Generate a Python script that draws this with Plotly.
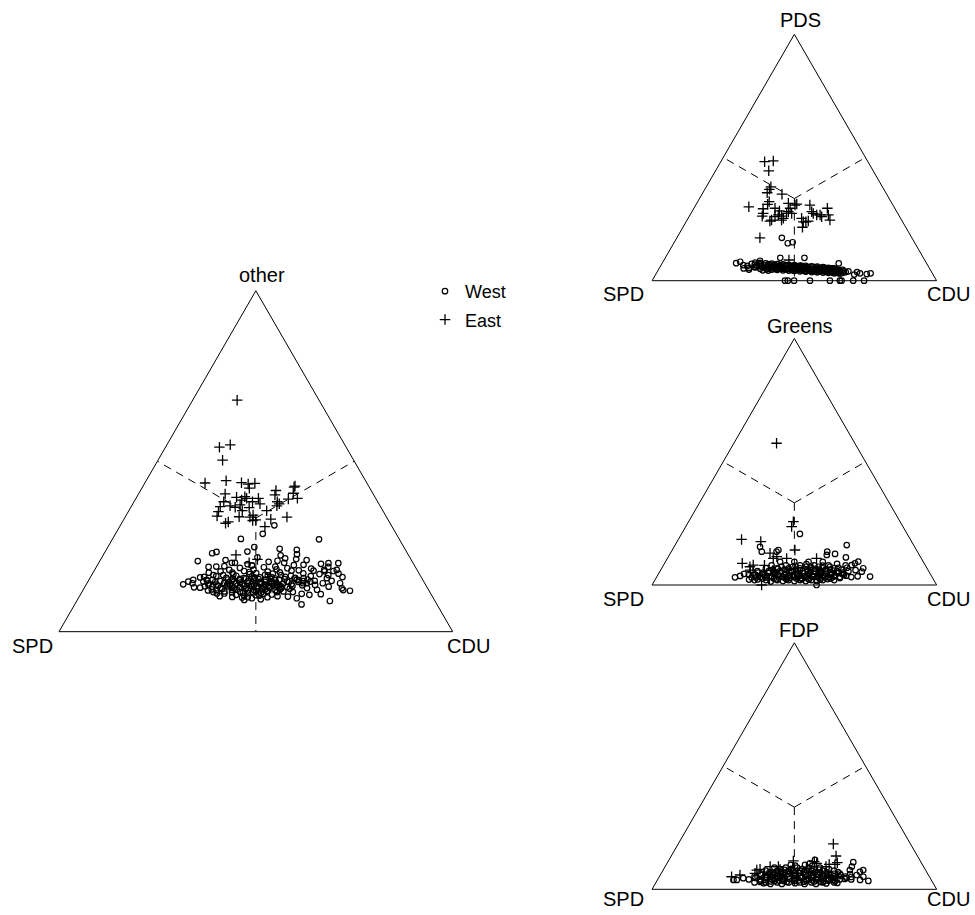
import plotly.graph_objects as go

# ---------------- data: (top-party share %, CDU share %) per constituency; SPD = remainder
# Plot 1: "other" vs SPD vs CDU
other_west = [
    (31.2, 39.1), (28.7, 37.4), (27.2, 32.6), (27.1, 52.5), (24.8, 37.2), (23.5, 36.1), (24.3, 43.9),
    (24.0, 48.4), (22.7, 49.1), (21.3, 49.6), (23.0, 27.4), (23.4, 28.3), (20.7, 24.9), (19.1, 30.4),
    (20.2, 34.6), (20.2, 33.8), (21.0, 52.4), (21.5, 46.7), (20.2, 47.1), (20.1, 60.9), (20.1, 58.4),
    (19.9, 56.6), (17.9, 55.7), (18.1, 58.3), (17.8, 60.8), (18.1, 61.5), (13.9, 24.6), (14.7, 25.5),
    (15.2, 26.5), (14.2, 26.8), (12.9, 29.4), (14.7, 29.3), (13.7, 31.1), (12.4, 32.6), (15.2, 29.9),
    (16.6, 30.9), (9.3, 42.4), (10.1, 42.9), (9.8, 55.5), (8.0, 57.6), (11.1, 56.1), (9.0, 64.3),
    (12.0, 67.9), (12.2, 66.1), (14.2, 64.3), (12.7, 65.5), (13.7, 58.2), (14.7, 56.5), (14.2, 59.9),
    (15.7, 60.2), (16.6, 60.1), (15.7, 54.3), (14.2, 55.8), (15.2, 52.8),
    (19.2, 32.4), (18.7, 36.6), (19.4, 39.3), (18.9, 42.6), (19.1, 45.4), (18.6, 48.7),
    (17.7, 32.2), (17.3, 35.4), (17.8, 38.1), (17.2, 41.5), (17.6, 44.2), (17.4, 47.4), (17.9, 50.1),
    (17.1, 53.5), (16.3, 31.8), (15.8, 34.6), (16.4, 36.8), (15.7, 39.1), (16.2, 40.9), (15.9, 43.1),
    (16.5, 44.8), (15.6, 47.1), (16.1, 49.4), (15.8, 52.1), (16.3, 55.8), (15.2, 31.4), (14.8, 33.6),
    (15.3, 35.3), (14.7, 37.1), (15.1, 38.4), (14.9, 40.6), (15.4, 41.8), (14.6, 43.7), (15.2, 44.9),
    (14.8, 46.6), (15.3, 48.3), (14.7, 50.6), (15.1, 53.4), (14.9, 57.5), (14.2, 30.9), (13.8, 33.1),
    (14.3, 34.8), (13.7, 36.6), (14.1, 37.9), (13.9, 39.6), (14.4, 40.8), (13.6, 42.7), (14.2, 43.9),
    (13.8, 45.6), (14.3, 46.8), (13.7, 48.6), (14.1, 49.9), (13.9, 52.1), (14.2, 54.9), (13.2, 32.4),
    (12.8, 34.6), (13.3, 36.3), (12.7, 38.1), (13.1, 39.4), (12.9, 41.1), (13.4, 42.3), (12.6, 44.2),
    (13.2, 45.4), (12.8, 47.1), (13.3, 48.3), (12.7, 50.1), (13.1, 51.4), (12.2, 33.9), (11.8, 36.1),
    (12.3, 37.8), (11.7, 40.1), (12.1, 41.9), (11.9, 44.1), (12.4, 45.3), (11.6, 47.1), (12.2, 48.9),
    (11.8, 51.1), (11.2, 36.4), (10.8, 39.6), (11.3, 42.3), (10.7, 44.6), (11.1, 46.4), (10.9, 48.6),
    (10.2, 38.9), (9.8, 44.1), (10.1, 47.9),
    (16.8, 35.9), (16.9, 39.9), (16.7, 44.0), (16.6, 48.1), (15.5, 36.4), (15.6, 39.7), (15.4, 43.0),
    (15.5, 46.0), (15.4, 49.6), (15.6, 52.0), (14.5, 32.4), (14.5, 35.7), (14.4, 38.8), (14.5, 42.0),
    (14.6, 45.0), (14.4, 48.0), (14.5, 51.1), (14.6, 53.5), (13.5, 33.6), (13.4, 37.2), (13.5, 40.3),
    (13.4, 43.6), (13.5, 46.3), (13.6, 49.2), (13.4, 52.6), (12.5, 35.2), (12.4, 39.0), (12.5, 41.2),
    (12.3, 43.3), (12.5, 46.2), (12.4, 49.9), (11.5, 38.2), (11.4, 41.0), (11.5, 43.6), (11.4, 45.6),
    (11.6, 49.6), (10.5, 41.8), (10.6, 45.6), (18.2, 40.3), (18.3, 46.1), (18.0, 51.9), (19.8, 38.0),
    (20.5, 43.0), (21.8, 39.5), (22.4, 45.1), (19.6, 52.3), (16.9, 57.7), (17.0, 62.5), (13.2, 61.9),
    (11.0, 61.0), (10.3, 53.0), (12.8, 56.6), (15.9, 27.9), (13.0, 27.8), (17.3, 29.4), (11.6, 33.4),
    (10.4, 35.6), (19.0, 28.5), (21.0, 31.8), (16.0, 64.0),
    (15.0, 36.4), (14.0, 41.9), (13.0, 43.8), (12.0, 46.9), (15.8, 41.8), (16.0, 45.9), (15.1, 47.3),
    (14.1, 47.5), (13.2, 49.9), (12.6, 52.3), (14.8, 54.6), (16.4, 50.7), (17.0, 45.8), (17.5, 39.6),
    (16.6, 33.4), (14.9, 30.2), (13.3, 30.4), (12.1, 31.8), (11.2, 34.5), (10.0, 41.5), (9.5, 46.5),
    (10.4, 50.3), (11.6, 53.6), (13.6, 55.0), (15.3, 55.5), (18.5, 54.8), (19.5, 49.9), (20.8, 45.1),
    (18.1, 34.2), (16.1, 28.8), (12.3, 59.4), (14.9, 61.8), (17.7, 58.6), (19.0, 58.9), (10.8, 58.2),
    (13.9, 35.8), (12.9, 37.6), (15.5, 38.2), (14.3, 44.3), (13.1, 46.8),
]
other_east = [
    (67.9, 11.3), (54.1, 13.7), (54.8, 16.1), (50.3, 16.4), (43.6, 15.3), (44.3, 20.3), (43.7, 24.5),
    (43.3, 26.4), (43.5, 28.0), (42.1, 27.3), (40.4, 22.0), (39.4, 25.4), (39.1, 28.1), (39.1, 31.1),
    (38.1, 30.1), (38.6, 27.1), (38.1, 22.8), (36.7, 22.6), (36.9, 25.0), (35.2, 22.9), (33.9, 23.2),
    (36.5, 26.5), (35.5, 28.8), (33.7, 28.9), (36.4, 30.1), (33.6, 31.7), (34.2, 32.2), (31.8, 26.4),
    (32.2, 26.9), (32.6, 32.9), (35.5, 35.0), (33.0, 37.3), (30.8, 36.9), (41.4, 34.4), (40.1, 34.8),
    (38.1, 36.4), (37.5, 37.2), (36.9, 36.9), (42.7, 38.6), (42.4, 38.5), (40.6, 39.2), (39.1, 41.0),
    (38.9, 38.8), (33.6, 41.1), (37.2, 27.4), (39.6, 27.4), (32.8, 33.6), (37.5, 32.3), (22.5, 33.7),
    (20.2, 38.2), (21.2, 39.8),
]

# Plot 2: PDS vs SPD vs CDU
pds_west = [
    (0.0, 46.7), (0.0, 47.7), (0.0, 49.9), (0.0, 55.5), (0.0, 62.5), (0.0, 66.0), (0.0, 66.6),
    (0.0, 70.7), (0.0, 74.5), (17.4, 36.9), (15.2, 40.1), (15.6, 41.6),
    (7.1, 26.0), (7.7, 27.1), (6.3, 28.9), (5.0, 29.7), (6.0, 30.5), (4.5, 31.8), (6.8, 31.6),
    (5.5, 33.8), (7.0, 34.0), (9.3, 40.4), (9.3, 48.9), (8.1, 33.9), (7.0, 62.1),
    (3.0, 71.6), (2.7, 74.1), (3.0, 75.3), (3.5, 70.3), (2.5, 69.8), (3.8, 67.1), (3.2, 65.4),
    (4.8, 35.6), (6.0, 35.0), (7.2, 34.4), (5.0, 37.5), (6.2, 36.9), (7.0, 36.5), (4.5, 39.8),
    (5.7, 39.2), (6.9, 38.6), (4.4, 41.8), (5.6, 41.2), (6.7, 40.7), (5.0, 41.5), (4.2, 43.9),
    (5.4, 43.3), (6.6, 42.7), (6.0, 43.0), (4.1, 46.0), (5.3, 45.4), (6.4, 44.8), (4.7, 45.7),
    (4.0, 48.0), (5.1, 47.5), (6.3, 46.9), (5.7, 47.2), (3.8, 50.1), (5.0, 49.5), (6.1, 49.0),
    (4.4, 49.8), (3.7, 52.2), (4.8, 51.6), (6.0, 51.0), (3.5, 54.3), (4.7, 53.7), (5.8, 53.1),
    (3.4, 56.3), (4.6, 55.7), (5.7, 55.2), (3.3, 58.4), (4.4, 57.8), (5.5, 57.3), (3.2, 60.4),
    (4.3, 59.9), (5.2, 59.4), (3.0, 62.5), (4.1, 62.0), (5.0, 61.5), (2.9, 64.6), (4.0, 64.0),
    (5.2, 31.4), (6.5, 32.8), (5.5, 33.3), (5.3, 38.4), (6.1, 40.0), (4.9, 42.6), (5.9, 44.1),
    (4.6, 47.0), (5.5, 48.3), (4.3, 51.0), (5.3, 50.6), (4.1, 53.0), (5.2, 52.4), (4.0, 55.0),
    (5.0, 54.5), (3.8, 57.0), (4.9, 56.6), (3.6, 59.2), (4.8, 58.7), (3.6, 61.2), (4.6, 60.8),
    (3.4, 63.3), (4.5, 62.8),
    (5.8, 37.8), (6.5, 39.7), (5.2, 40.6), (6.3, 41.9), (4.8, 43.6), (5.8, 45.6), (4.4, 46.8),
    (5.9, 46.4), (4.9, 48.7), (5.6, 49.9), (4.2, 50.6), (5.5, 52.2), (4.4, 52.9), (5.4, 54.9),
    (4.1, 55.9), (5.2, 56.4), (3.9, 58.8), (5.0, 58.3), (3.8, 60.7), (4.9, 60.2), (3.6, 62.3),
    (4.7, 61.8), (3.7, 64.0), (4.4, 64.8), (3.5, 66.3), (6.7, 34.9), (6.1, 33.9), (7.3, 32.6),
    (4.2, 36.8), (4.1, 38.8),
    (5.5, 36.2), (4.6, 38.0), (6.6, 37.6), (5.1, 39.5), (6.0, 41.4), (4.7, 40.9), (5.5, 42.5),
    (6.3, 43.8), (4.5, 44.8), (5.2, 46.4), (6.0, 45.8), (4.3, 48.9), (5.0, 48.1), (5.9, 48.0),
    (4.6, 50.5), (5.4, 51.3), (3.9, 51.7), (4.6, 52.8), (5.6, 53.8), (4.0, 54.2), (4.9, 55.3),
    (3.7, 55.6), (4.4, 56.6), (5.3, 57.9), (3.9, 57.7), (4.6, 58.9), (3.5, 60.0), (4.2, 61.1),
    (5.0, 60.8), (3.9, 62.9), (3.3, 61.8), (4.3, 63.6), (3.1, 63.9), (3.8, 65.5), (5.8, 42.6),
    (6.4, 38.2), (4.9, 44.6), (5.6, 46.9), (4.2, 47.4), (6.0, 49.6),
]
pds_east = [
    (48.3, 15.4), (48.6, 18.3), (44.6, 18.7), (37.1, 22.7), (38.1, 22.7), (35.7, 22.6), (35.1, 28.1),
    (30.0, 19.0), (29.2, 24.4), (31.0, 25.1), (32.1, 25.1), (27.3, 25.4), (26.2, 25.6), (24.2, 29.3),
    (24.6, 29.7), (26.0, 30.2), (28.3, 30.6), (26.7, 31.0), (26.2, 32.4), (25.3, 33.5), (24.6, 33.2),
    (31.4, 32.2), (29.4, 33.8), (28.0, 33.9), (27.3, 33.6), (30.7, 34.9), (31.1, 35.3), (30.7, 40.1),
    (28.0, 42.1), (27.3, 43.0), (26.7, 44.5), (26.7, 45.7), (26.0, 46.6), (29.4, 46.9), (24.6, 50.2),
    (26.7, 48.6), (25.3, 39.9), (23.9, 41.2), (23.9, 42.1), (24.2, 42.8), (21.7, 42.0), (17.4, 29.2),
    (29.4, 28.5), (27.3, 35.4), (8.4, 43.9),
]

# Plot 3: Greens vs SPD vs CDU
greens_west = [
    (20.7, 41.6), (16.2, 60.3), (11.2, 62.5), (12.6, 58.0), (12.2, 55.3), (13.5, 54.8), (13.5, 31.8),
    (15.5, 30.2), (13.5, 37.0), (14.2, 37.3), (3.4, 74.9), (6.8, 70.8), (5.4, 71.0), (9.5, 67.7),
    (8.8, 66.9), (8.1, 66.1), (0.0, 57.8), (3.1, 27.6), (3.7, 29.1), (4.5, 30.1),
    (2.0, 35.0), (2.0, 39.0), (2.0, 43.0), (2.0, 47.0), (2.0, 51.0), (2.0, 55.0), (2.0, 59.0),
    (2.0, 63.0), (3.2, 36.4), (3.2, 40.4), (3.2, 44.4), (3.2, 48.4), (3.2, 52.4), (3.2, 56.4),
    (3.2, 60.4), (3.2, 64.4), (3.2, 68.4), (4.4, 31.8), (4.4, 36.8), (4.4, 40.8), (4.4, 44.8),
    (4.4, 48.8), (4.4, 52.8), (4.4, 56.8), (4.4, 60.8), (4.4, 64.8), (5.6, 34.2), (5.6, 38.2),
    (5.6, 42.2), (5.6, 46.2), (5.6, 50.2), (5.6, 54.2), (5.6, 58.2), (5.6, 62.2), (5.6, 66.2),
    (6.8, 36.6), (6.8, 40.6), (6.8, 44.6), (6.8, 48.6), (6.8, 52.6), (6.8, 56.6), (6.8, 60.6),
    (8.0, 38.0), (8.0, 43.0), (8.0, 48.0), (8.0, 53.0), (8.0, 58.0), (8.0, 64.0), (9.4, 40.3),
    (9.4, 45.3), (9.4, 50.3), (9.4, 55.3), (2.6, 45.7), (3.8, 49.9), (5.0, 53.0), (2.8, 57.5),
    (4.0, 61.0), (6.2, 47.5), (3.5, 43.0), (4.8, 38.5), (2.4, 51.5), (5.2, 57.0), (7.4, 50.5),
    (3.0, 33.5),
    (2.6, 37.5), (2.6, 41.5), (2.6, 49.5), (2.6, 53.5), (2.6, 61.5), (3.8, 38.3), (3.8, 42.3),
    (3.8, 46.3), (3.8, 54.3), (3.8, 58.3), (3.8, 62.3), (3.8, 66.3), (5.0, 36.5), (5.0, 40.5),
    (5.0, 44.5), (5.0, 48.5), (5.0, 56.5), (5.0, 60.5), (5.0, 64.5), (6.2, 39.4), (6.2, 43.4),
    (6.2, 51.4), (6.2, 55.4), (6.2, 59.4), (6.2, 63.4), (7.4, 41.8), (7.4, 45.8), (7.4, 54.8),
    (7.4, 58.8), (1.6, 45.2), (1.6, 49.2), (1.6, 53.2), (1.6, 57.2), (2.2, 33.0), (4.2, 33.9),
    (8.6, 60.7), (7.0, 65.0), (6.0, 68.5), (3.5, 70.5), (1.4, 41.0),
    (2.3, 36.0), (3.0, 38.5), (2.3, 42.5), (3.4, 45.5), (2.2, 46.2), (3.0, 47.0), (4.1, 47.5),
    (2.9, 51.0), (3.6, 51.8), (4.7, 50.8), (2.3, 54.0), (3.3, 54.8), (4.5, 54.5), (2.2, 58.0),
    (3.0, 59.3), (4.6, 58.8), (2.4, 60.5), (3.4, 62.2), (4.8, 62.9), (2.8, 64.6), (4.1, 65.4),
    (5.3, 45.6), (6.0, 49.0), (5.8, 52.0), (6.6, 54.2), (5.6, 56.0), (6.3, 58.0), (5.8, 61.0),
    (4.3, 42.0), (5.5, 40.0), (3.6, 40.0), (4.0, 37.5), (3.1, 35.0), (5.0, 34.8), (6.5, 41.0),
    (7.8, 46.5), (7.3, 52.0), (7.9, 56.0), (8.5, 50.0), (7.0, 62.0),
]
greens_east = [
    (57.5, 15.0), (23.7, 37.2), (25.7, 36.8), (18.5, 22.2), (17.6, 29.4), (12.9, 35.0), (10.8, 37.2),
    (11.5, 38.1), (8.8, 27.3), (0.0, 38.5), (10.8, 52.4), (10.8, 41.9), (7.4, 30.7), (8.1, 31.5),
    (14.2, 43.1), (5.0, 33.0), (4.0, 36.0), (6.0, 39.5), (3.5, 42.5), (6.5, 45.0), (5.0, 48.0),
    (3.0, 50.0), (7.0, 53.0), (4.5, 55.5), (2.5, 40.0), (8.0, 35.5), (6.0, 31.5),
]

# Plot 4: FDP vs SPD vs CDU
fdp_west = [
    (9.9, 43.8), (11.9, 51.3), (10.5, 50.2), (9.9, 48.8), (11.0, 65.2), (9.2, 65.6), (7.8, 65.6),
    (5.8, 69.0), (7.1, 69.5), (7.8, 70.3), (3.4, 74.3), (3.8, 71.2), (5.1, 71.7), (3.8, 26.7),
    (3.8, 27.9), (4.5, 29.8),
    (2.8, 34.6), (2.8, 38.6), (2.8, 42.6), (2.8, 46.6), (2.8, 50.6), (2.8, 54.6), (2.8, 58.6),
    (2.8, 62.6), (4.0, 32.0), (4.0, 36.0), (4.0, 40.0), (4.0, 44.0), (4.0, 48.0), (4.0, 52.0),
    (4.0, 56.0), (4.0, 60.0), (4.0, 64.0), (4.0, 68.0), (5.2, 33.4), (5.2, 37.4), (5.2, 41.4),
    (5.2, 45.4), (5.2, 49.4), (5.2, 53.4), (5.2, 57.4), (5.2, 61.4), (5.2, 65.4), (6.4, 34.8),
    (6.4, 38.8), (6.4, 42.8), (6.4, 46.8), (6.4, 50.8), (6.4, 54.8), (6.4, 58.8), (6.4, 62.8),
    (7.6, 36.2), (7.6, 40.2), (7.6, 44.2), (7.6, 48.2), (7.6, 52.2), (7.6, 56.2), (7.6, 60.2),
    (8.8, 38.6), (8.8, 42.6), (8.8, 46.6), (8.8, 50.6), (8.8, 54.6), (3.4, 41.3), (4.6, 47.7),
    (5.8, 51.1), (3.2, 55.4), (6.9, 45.0), (4.4, 59.8), (6.0, 40.2), (2.5, 49.0),
    (3.4, 36.6), (3.4, 44.6), (3.4, 48.6), (3.4, 52.6), (3.4, 58.6), (3.4, 62.6), (4.6, 34.0),
    (4.6, 38.0), (4.6, 42.0), (4.6, 50.0), (4.6, 54.0), (4.6, 58.0), (4.6, 62.0), (4.6, 66.0),
    (5.8, 35.4), (5.8, 39.4), (5.8, 43.4), (5.8, 47.4), (5.8, 55.4), (5.8, 59.4), (5.8, 63.4),
    (7.0, 37.8), (7.0, 41.8), (7.0, 49.8), (7.0, 53.8), (7.0, 57.8), (7.0, 61.8), (8.2, 40.7),
    (8.2, 44.7), (8.2, 48.7), (8.2, 52.7), (8.2, 58.0), (2.2, 40.5), (2.2, 44.5), (2.2, 52.5),
    (2.2, 56.5), (6.2, 66.5), (5.0, 67.5), (9.6, 45.5), (9.6, 51.5),
    (3.0, 36.5), (3.8, 38.0), (5.0, 39.0), (3.2, 40.0), (4.3, 41.2), (5.5, 42.4), (3.5, 43.0),
    (4.8, 44.2), (6.1, 44.6), (3.0, 45.8), (4.2, 46.2), (5.4, 47.2), (6.6, 48.6), (3.6, 49.7),
    (4.9, 50.4), (6.2, 52.2), (3.1, 51.8), (4.3, 53.0), (5.6, 53.8), (6.8, 55.6), (3.7, 54.5),
    (4.9, 55.6), (6.0, 57.2), (3.0, 57.6), (4.3, 57.2), (5.5, 58.8), (3.5, 60.2), (4.8, 60.4),
    (6.3, 60.8), (3.9, 61.8), (5.3, 63.0), (4.2, 65.6), (7.6, 50.6), (8.0, 54.8), (7.3, 46.0),
    (7.9, 42.6), (6.7, 39.4), (2.5, 38.0), (2.4, 60.0), (2.6, 63.8),
]
fdp_east = [
    (18.4, 54.5), (13.5, 57.9), (10.8, 59.7), (10.1, 59.2), (10.1, 57.2), (9.2, 56.5), (10.5, 52.6),
    (11.2, 51.4), (5.1, 25.4), (5.8, 28.0), (7.8, 32.9), (8.1, 33.9), (6.5, 32.9), (11.5, 43.9),
    (9.2, 39.8), (9.2, 36.9), (7.0, 36.0), (6.0, 38.5), (8.0, 41.0), (7.5, 45.0), (6.5, 48.0),
    (8.5, 50.0), (5.5, 42.0), (6.8, 53.5),
]

top_labels = ["other", "PDS", "Greens", "FDP"]
left_label = "SPD"
right_label = "CDU"
group_names = ["West", "East"]

# centroid-to-edge-midpoint guide lines (shares in %)
third = 100.0 / 3.0
guide_a = [third, 50.0, None, third, 50.0, None, third, 0.0]
guide_b = [third, 50.0, None, third, 0.0, None, third, 50.0]
guide_c = [third, 0.0, None, third, 50.0, None, third, 50.0]

panels = [
    ("ternary", other_west, other_east),
    ("ternary2", pds_west, pds_east),
    ("ternary3", greens_west, greens_east),
    ("ternary4", fdp_west, fdp_east),
]

# ---------------- figure
W, H = 975, 915
fig = go.Figure()

west_marker = dict(symbol="circle-open", size=5.5, color="black", line=dict(width=1.2, color="black"))
east_marker = dict(symbol="cross-thin-open", size=7.5, color="black", line=dict(width=1.3, color="black"))

for i, (sp, west, east) in enumerate(panels):
    fig.add_trace(go.Scatterternary(
        a=guide_a, b=guide_b, c=guide_c, mode="lines", subplot=sp,
        line=dict(color="black", width=1, dash="8px,6px"),
        showlegend=False, hoverinfo="skip", connectgaps=False,
    ))
    for name, pts, mk in ((group_names[0], west, west_marker), (group_names[1], east, east_marker)):
        a = [p[0] for p in pts]
        c = [p[1] for p in pts]
        b = [100.0 - p[0] - p[1] for p in pts]
        fig.add_trace(go.Scatterternary(
            a=a, b=b, c=c, mode="markers", subplot=sp, name=name,
            marker=mk, cliponaxis=False, showlegend=(i == 0),
            legendgroup=name,
        ))

axis_style = dict(showline=True, linecolor="black", linewidth=1, showgrid=False,
                  showticklabels=False, ticks="", title=dict(text=""), min=0)

def tern(x0, x1, ytop, ybot):
    return dict(
        domain=dict(x=[x0 / W, x1 / W], y=[1 - ybot / H, 1 - ytop / H]),
        sum=100, bgcolor="white",
        aaxis=axis_style, baxis=axis_style, caxis=axis_style,
    )

layout_tern = {
    "ternary": tern(59, 452.7, 290.7, 631.7),
    "ternary2": tern(652, 936.7, 34.3, 280.7),
    "ternary3": tern(652, 936.7, 338.5, 585.0),
    "ternary4": tern(652, 936.7, 642.8, 889.3),
}

def ann(text, x, y, size=20):
    return dict(text=text, x=x / W, y=1 - y / H, xref="paper", yref="paper",
                xanchor="center", yanchor="middle", showarrow=False,
                font=dict(size=size, color="black"))

annotations = [
    ann(top_labels[0], 262, 275), ann(left_label, 32, 646), ann(right_label, 468, 646),
    ann(top_labels[1], 800, 20), ann(left_label, 623, 294), ann(right_label, 948, 294),
    ann(top_labels[2], 799.5, 326.5), ann(left_label, 623, 598.5), ann(right_label, 948, 598.5),
    ann(top_labels[3], 799, 629.5), ann(left_label, 623, 898.5), ann(right_label, 948, 898.5),
]

fig.update_layout(
    width=W, height=H,
    margin=dict(l=0, r=0, t=0, b=0),
    paper_bgcolor="white",
    font=dict(family="Liberation Sans, Arial, sans-serif", color="black"),
    showlegend=True,
    legend=dict(x=425 / W, y=1 - 273 / H, xanchor="left", yanchor="top",
                font=dict(size=18), bgcolor="rgba(0,0,0,0)", traceorder="grouped",
                tracegroupgap=2),
    annotations=annotations,
    **layout_tern,
)

fig.write_html(
    "out.html",
    config={"displayModeBar": False},
    post_script="document.body.style.margin='0px';document.body.style.overflow='hidden';",
)
